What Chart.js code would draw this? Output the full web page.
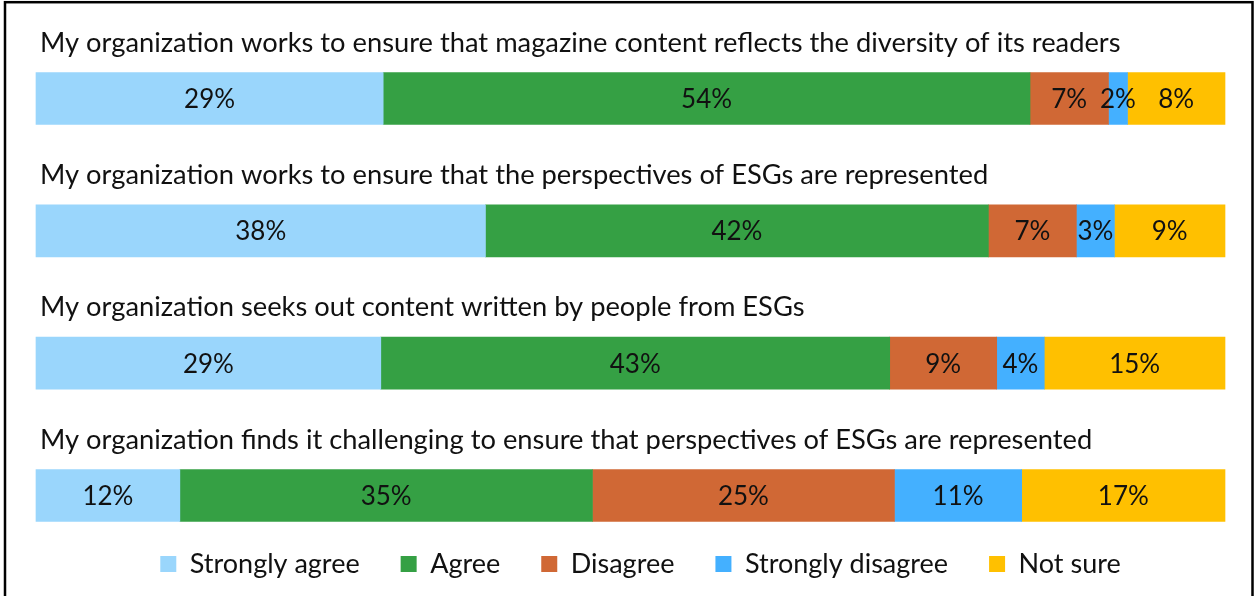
<!DOCTYPE html>
<html>
<head>
<meta charset="utf-8">
<script src="https://cdn.jsdelivr.net/npm/chart.js@4.4.1/dist/chart.umd.min.js"></script>
<style>
  html, body { margin: 0; padding: 0; background: #fff; }
  #wrap { width: 1255px; height: 596px; position: relative; }
</style>
</head>
<body>
<div id="wrap"><canvas id="c" width="1255" height="596"></canvas></div>
<script>
// ---- data ----
const statements = [
  "My organization works to ensure that magazine content reflects the diversity of its readers",
  "My organization works to ensure that the perspectives of ESGs are represented",
  "My organization seeks out content written by people from ESGs",
  "My organization finds it challenging to ensure that perspectives of ESGs are represented"
];
const seriesNames = ["Strongly agree", "Agree", "Disagree", "Strongly disagree", "Not sure"];
const stronglyAgree    = [29.2, 37.8, 29.0, 12.1];
const agree            = [54.4, 42.3, 42.8, 34.7];
const disagree         = [6.6, 7.4, 9.0, 25.4];
const stronglyDisagree = [1.6, 3.2, 4.0, 10.7];
const notSure          = [8.2, 9.3, 15.2, 17.1];
const colors = ["#9AD6FC", "#35A044", "#D06835", "#44B0FF", "#FFC000"];

const FONT = "Lato, 'Open Sans', sans-serif";

const seriesValues = [stronglyAgree, agree, disagree, stronglyDisagree, notSure];
const datasets = seriesNames.map((name, i) => ({
  label: name,
  data: seriesValues[i],
  backgroundColor: colors[i],
  borderWidth: 0,
  barThickness: 52,
  clip: false
}));

const frame = {
  id: 'frame',
  afterDraw(chart) {
    const ctx = chart.ctx;
    ctx.save();
    ctx.strokeStyle = '#000';
    ctx.lineWidth = 2.5;
    ctx.strokeRect(5, 2.2, 1247.5, 620);
    ctx.restore();
  }
};

const legendShift = {
  id: 'legendShift',
  afterLayout(chart) {
    if (chart.legend) { chart.legend.left += 10; chart.legend.right += 10; }
  }
};

const statementTitles = {
  id: 'statementTitles',
  afterDatasetsDraw(chart) {
    const ctx = chart.ctx;
    const meta = chart.getDatasetMeta(0);
    ctx.save();
    ctx.font = "27.3px " + FONT;
    ctx.fillStyle = '#111';
    ctx.textAlign = 'left';
    ctx.textBaseline = 'alphabetic';
    meta.data.forEach((bar, i) => {
      const top = bar.y - bar.height / 2;
      ctx.fillText(statements[i], chart.chartArea.left + 4, top - 21);
    });
    ctx.restore();
  }
};

const valueLabels = {
  id: 'valueLabels',
  afterDatasetsDraw(chart) {
    const ctx = chart.ctx;
    ctx.save();
    ctx.font = "26px " + FONT;
    ctx.fillStyle = '#111';
    ctx.textAlign = 'center';
    ctx.textBaseline = 'middle';
    chart.data.datasets.forEach((ds, di) => {
      const meta = chart.getDatasetMeta(di);
      meta.data.forEach((bar, i) => {
        const cx = (bar.x + bar.base) / 2;
        ctx.fillText(Math.round(ds.data[i]) + '%', cx, bar.y + 1);
      });
    });
    ctx.restore();
  }
};

new Chart(document.getElementById('c'), {
  type: 'bar',
  data: { labels: statements, datasets },
  options: {
    responsive: false,
    animation: false,
    indexAxis: 'y',
    layout: { padding: { left: 36, right: 30, top: 98.5, bottom: 8.5 } },
    scales: {
      x: {
        stacked: true, min: 0, max: 100,
        display: true,
        grid: { display: false }, border: { display: false },
        ticks: { display: false },
        afterFit: s => { s.height = 14; }
      },
      y: {
        stacked: true, offset: false,
        display: false
      }
    },
    plugins: {
      legend: {
        position: 'bottom',
        labels: {
          font: { size: 27, family: FONT },
          color: '#111',
          boxWidth: 16, boxHeight: 16,
          padding: 41
        }
      },
      tooltip: { enabled: false }
    }
  },
  plugins: [frame, legendShift, statementTitles, valueLabels]
});
</script>
</body>
</html>
